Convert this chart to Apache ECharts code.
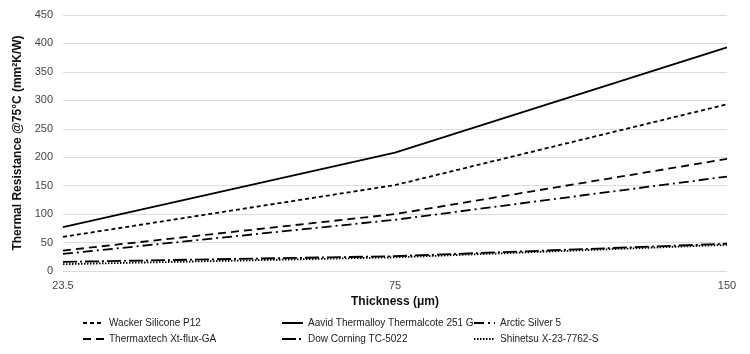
<!DOCTYPE html>
<html>
<head>
<meta charset="utf-8">
<script src="https://cdn.jsdelivr.net/npm/echarts@6/dist/echarts.min.js"></script>
<style>html,body{margin:0;padding:0;background:#fff}#c{width:750px;height:354px}</style>
</head>
<body>
<div id="c"></div>
<script>
const categories = ['23.5', '75', '150'];
const wacker = [60, 151, 293];
const aavid = [77, 208, 393];
const arctic = [30, 90, 166];
const thermaxtech = [36, 100, 197];
const dow = [16, 26, 48];
const shinetsu = [12, 24, 46];
const yTicks = { min: 0, max: 450, interval: 50 };

const FONT = '"Liberation Sans", Arial, sans-serif';
function s(name, data, type, width) {
  return {
    name: name, type: 'line', data: data, symbol: 'none', showSymbol: false,
    lineStyle: { color: '#000', width: width || 1.8, type: type },
    itemStyle: { color: '#000' },
    animation: false
  };
}
function lg(left, names) {
  return {
    show: true, orient: 'vertical', left: left, top: 318, padding: 0,
    itemWidth: 21, itemHeight: 10, itemGap: 6,
    itemStyle: { color: 'rgba(0,0,0,0)', borderWidth: 0, opacity: 0 },
    textStyle: { fontFamily: FONT, fontSize: 10, color: '#222' },
    selectedMode: false, data: names
  };
}
const chart = echarts.init(document.getElementById('c'));
chart.setOption({
  animation: false,
  grid: { left: 63, right: 23, top: 15, bottom: 83 },
  legend: [
    lg(82, ['Wacker Silicone P12', 'Thermaxtech Xt-flux-GA']),
    lg(281, ['Aavid Thermalloy Thermalcote 251 G', 'Dow Corning TC-5022']),
    lg(473, ['Arctic Silver 5', 'Shinetsu X-23-7762-S'])
  ],
  xAxis: {
    type: 'category', data: categories, boundaryGap: false,
    name: 'Thickness (μm)', nameLocation: 'middle', nameGap: 24,
    nameTextStyle: { fontFamily: FONT, fontSize: 12, fontWeight: 'bold', color: '#111' },
    axisLine: { show: false }, axisTick: { show: false },
    axisLabel: { fontFamily: FONT, fontSize: 11, color: '#444', margin: 9 }
  },
  yAxis: {
    type: 'value', min: yTicks.min, max: yTicks.max, interval: yTicks.interval,
    name: 'Thermal Resistance @75°C (mm²K/W)', nameLocation: 'middle', nameGap: 30,
    nameTextStyle: { fontFamily: FONT, fontSize: 12, fontWeight: 'bold', color: '#111' },
    axisLine: { show: false }, axisTick: { show: false },
    axisLabel: { fontFamily: FONT, fontSize: 11, color: '#444', margin: 10 },
    splitLine: { lineStyle: { color: '#dcdcdc', width: 1 } }
  },
  series: [
    s('Wacker Silicone P12', wacker, [4, 3]),
    s('Aavid Thermalloy Thermalcote 251 G', aavid, 'solid'),
    s('Arctic Silver 5', arctic, [10, 4, 2, 4]),
    s('Thermaxtech Xt-flux-GA', thermaxtech, [8, 5]),
    s('Dow Corning TC-5022', dow, [14, 3, 2, 3]),
    s('Shinetsu X-23-7762-S', shinetsu, [1.5, 1.5])
  ]
});
</script>
</body>
</html>
